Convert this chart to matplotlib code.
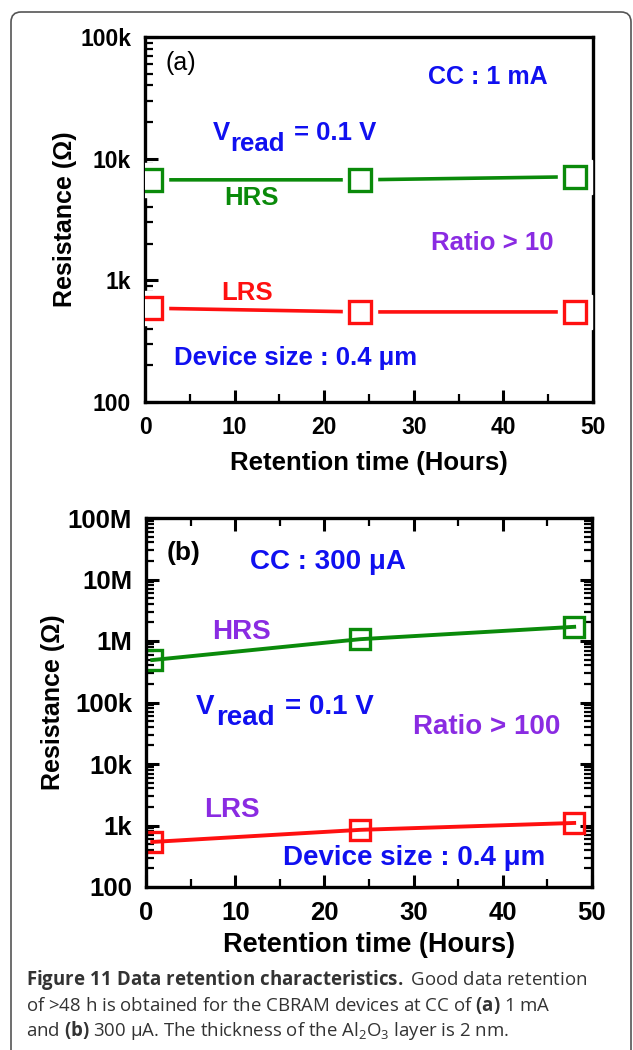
import matplotlib
matplotlib.use("Agg")
import matplotlib.pyplot as plt
from matplotlib.patches import FancyBboxPatch
from matplotlib.ticker import FixedLocator, LogLocator, NullFormatter, MultipleLocator
from matplotlib.transforms import IdentityTransform

# data
hours = [0.7, 24, 48]

hrs_a = [6700, 6700, 7100]
lrs_a = [590, 550, 550]

hrs_b = [4.9e5, 1.07e6, 1.7e6]
lrs_b = [540, 850, 1100]

yticks_a = [1e2, 1e3, 1e4, 1e5]
ylabels_a = ["100", "1k", "10k", "100k"]
yticks_b = [1e2, 1e3, 1e4, 1e5, 1e6, 1e7, 1e8]
ylabels_b = ["100", "1k", "10k", "100k", "1M", "10M", "100M"]
xticks = [0, 10, 20, 30, 40, 50]

GREEN = "#0a8a0a"
RED = "#ff1010"
BLUE = "#1010f0"
PURPLE = "#8a2be2"

plt.rcParams["font.family"] = ["Liberation Sans", "DejaVu Sans"]
plt.rcParams["mathtext.fontset"] = "custom"
plt.rcParams["mathtext.rm"] = "Open Sans"
plt.rcParams["mathtext.it"] = "Open Sans:italic"
plt.rcParams["mathtext.bf"] = "Open Sans:bold"


def style_axis(ax, yticks, ylabels, ymax, all_sides, tsize, lsize, lpad):
    ax.set_yscale("log")
    ax.set_xlim(0, 50)
    ax.set_ylim(100, ymax)
    for sp in ax.spines.values():
        sp.set_linewidth(2.4)
    ax.yaxis.set_major_locator(FixedLocator(yticks))
    ax.set_yticklabels(ylabels)
    ax.yaxis.set_minor_locator(LogLocator(base=10, subs=range(2, 10)))
    ax.yaxis.set_minor_formatter(NullFormatter())
    ax.set_xticks(xticks)
    ax.xaxis.set_minor_locator(MultipleLocator(5))
    ax.tick_params(which="both", direction="in", top=all_sides, right=all_sides,
                   labelsize=tsize)
    ax.tick_params(which="major", length=9, width=2.2)
    ax.tick_params(which="minor", length=5.5, width=1.6)
    ax.tick_params(axis="x", pad=10)
    ax.tick_params(axis="y", pad=10)
    for lab in ax.get_xticklabels() + ax.get_yticklabels():
        lab.set_fontweight("bold")
    ax.set_xlabel("Retention time (Hours)", fontsize=lsize, fontweight="bold",
                  labelpad=lpad)
    ax.set_ylabel("Resistance (\u03a9)", fontsize=18, fontweight="bold",
                  labelpad=2)


def vread(ax, x, y, xs, ys, xe, size):
    kw = dict(transform=ax.transAxes, color=BLUE, fontsize=size,
              fontweight="bold", va="center")
    ax.text(x, y, "V", **kw)
    ax.text(xs, ys, "read", **kw)
    ax.text(xe, y, "= 0.1 V", **kw)


def note(ax, x, y, s, col, size, ha="left"):
    ax.text(x, y, s, transform=ax.transAxes, color=col, fontsize=size,
            fontweight="bold", va="center", ha=ha)


fig = plt.figure(figsize=(6.33, 10.5), dpi=100)

# ---- panel (a)
ax1 = fig.add_axes([145 / 633, 1 - 402 / 1050, 448 / 633, 365 / 1050])
for vals, col in [(hrs_a, GREEN), (lrs_a, RED)]:
    ax1.plot(hours, vals, color=col, lw=2.6, zorder=2)
    ax1.plot(hours, vals, ls="none", marker="s", ms=24, mfc="white",
             mec="white", zorder=3)
    ax1.plot(hours, vals, ls="none", marker="s", ms=16, mfc="white",
             mec=col, mew=2.4, zorder=4)
style_axis(ax1, yticks_a, ylabels_a, 1e5, False, 16.5, 18.5, 9)

ax1.text(0.045, 0.929, "(a)", transform=ax1.transAxes, fontsize=18,
         va="center")
note(ax1, 0.632, 0.890, "CC : 1 mA", BLUE, 18)
vread(ax1, 0.152, 0.737, 0.19, 0.707, 0.333, 18.5)
note(ax1, 0.238, 0.559, "HRS", GREEN, 18.5, ha="center")
note(ax1, 0.638, 0.436, "Ratio > 10", PURPLE, 18.5)
note(ax1, 0.227, 0.299, "LRS", RED, 18.5, ha="center")
note(ax1, 0.065, 0.121, "Device size : 0.4 \u03bcm", BLUE, 18.5)

# ---- panel (b)
ax2 = fig.add_axes([146 / 633, 1 - 887 / 1050, 446 / 633, 369 / 1050])
for vals, col in [(hrs_b, GREEN), (lrs_b, RED)]:
    ax2.plot(hours, vals, color=col, lw=2.8, marker="s", ms=15,
             fillstyle="none", mec=col, mew=2.4)
style_axis(ax2, yticks_b, ylabels_b, 1e8, True, 18.5, 19.5, 5)

ax2.text(0.047, 0.905, "(b)", transform=ax2.transAxes, fontsize=19,
         fontweight="bold", va="center")
note(ax2, 0.233, 0.881, "CC : 300 \u03bcA", BLUE, 20)
note(ax2, 0.215, 0.691, "HRS", PURPLE, 20, ha="center")
vread(ax2, 0.112, 0.488, 0.157, 0.458, 0.312, 20)
note(ax2, 0.599, 0.434, "Ratio > 100", PURPLE, 20)
note(ax2, 0.193, 0.209, "LRS", PURPLE, 20, ha="center")
note(ax2, 0.307, 0.079, "Device size : 0.4 \u03bcm", BLUE, 20)

# ---- caption
cap = dict(fontsize=13.4, color="#333333", family=["Open Sans", "DejaVu Sans"],
           va="center")
fig.text(26 / 633, 1 - 980 / 1050,
         r"$\mathbf{Figure\ 11\ Data\ retention\ characteristics.}$"
         " Good data retention", **cap)
fig.text(26 / 633, 1 - 1005 / 1050,
         r"of >48 h is obtained for the CBRAM devices at CC of "
         r"$\mathbf{(a)}$ 1 mA", **cap)
fig.text(26 / 633, 1 - 1030 / 1050,
         "and $\\mathbf{(b)}$ 300 \u03bcA. The thickness of the "
         "Al$_2$O$_3$ layer is 2 nm.", **cap)

# rounded frame around the figure
frame = FancyBboxPatch((11, -30), 620, 1038 + 30, transform=IdentityTransform(),
                       boxstyle="round,pad=0,rounding_size=10",
                       fc="none", ec="#555555", lw=1.2)
fig.patches.append(frame)

fig.savefig("out.png", dpi=100)
